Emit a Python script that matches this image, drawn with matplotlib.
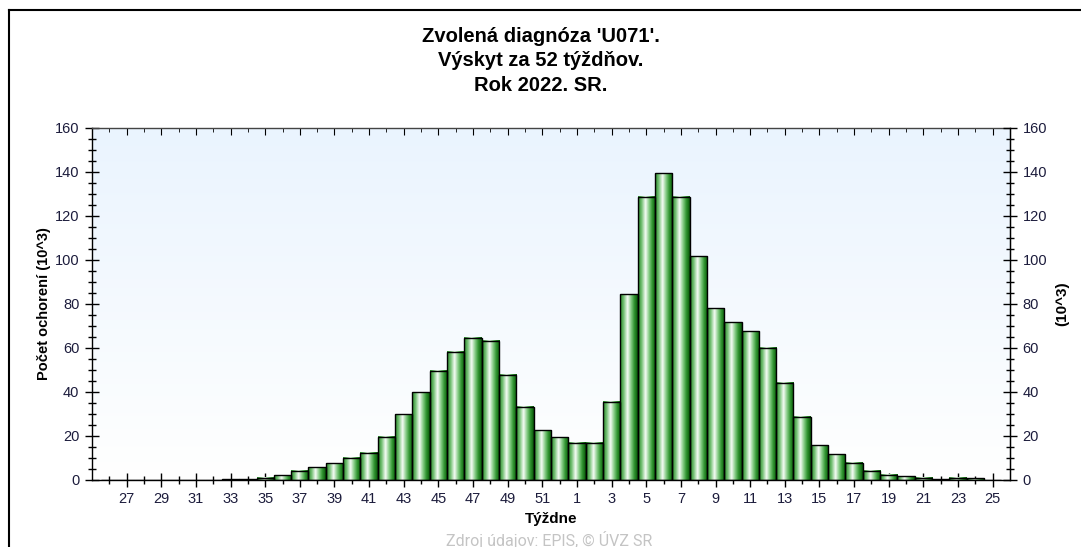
import matplotlib.pyplot as plt
import numpy as np
from matplotlib.colors import LinearSegmentedColormap
from matplotlib.lines import Line2D
from matplotlib.ticker import FixedLocator, MultipleLocator

weeks = list(range(26, 53)) + list(range(1, 26))
cases = [0, 0, 0, 0, 0, 0, 0, 0.4, 0.4, 1.0, 2.1, 4.1, 5.9, 7.7, 10.2, 12.3,
         19.6, 30.0, 39.9, 49.7, 58.4, 64.6, 63.4, 47.9, 33.2, 22.6, 19.4,
         17.0, 17.0, 35.5, 84.5, 128.8, 139.4, 128.8, 101.8, 78.1, 71.6, 67.6,
         60.2, 44.1, 28.8, 15.8, 11.7, 7.9, 4.1, 2.3, 1.7, 1.0, 0.4, 1.0, 0.9, 0]

title = "Zvolená diagnóza 'U071'.\nVýskyt za 52 týždňov.\nRok 2022. SR."
ylabel = "Počet ochorení (10^3)"
ylabel_right = "(10^3)"
xlabel = "Týždne"
source = "Zdroj údajov: EPIS, © ÚVZ SR"

plt.rcParams['font.family'] = ['Liberation Sans', 'DejaVu Sans']

fig = plt.figure(figsize=(10.81, 5.47), dpi=100)
ax = fig.add_axes([0.0851, 0.1225, 0.8492, 0.6435])

x = np.arange(len(weeks))
ax.set_xlim(-1, len(weeks))
ax.set_ylim(0, 160)

# background gradient light blue -> white
bg = np.linspace(0, 1, 256).reshape(-1, 1)
bg_cmap = LinearSegmentedColormap.from_list("bg", ["#ffffff", "#eaf4fe"])
ax.imshow(bg, cmap=bg_cmap, origin="lower", aspect="auto",
          extent=[-1, len(weeks), 0, 160], zorder=0)

# cylinder-style bars
bar_cmap = LinearSegmentedColormap.from_list(
    "bar", [(0.0, "#268626"), (0.2, "#74c074"), (0.42, "#f6fcf6"),
            (0.62, "#86cc86"), (0.8, "#329632"), (1.0, "#085608")])
grad = np.linspace(0, 1, 64).reshape(1, -1)
for xi, h in zip(x, cases):
    if h <= 0:
        continue
    ax.imshow(grad, cmap=bar_cmap, aspect="auto",
              extent=[xi - 0.5, xi + 0.5, 0, h], zorder=2)
ax.bar(x, cases, width=1.0, facecolor="none", edgecolor="black",
       linewidth=1.0, zorder=3)

tick_color = "#1c1c3c"
major = [i for i, w in zip(x, weeks) if w % 2 == 1]
minor = [i for i, w in zip(x, weeks) if w % 2 == 0]
ax.xaxis.set_major_locator(FixedLocator(major))
ax.xaxis.set_minor_locator(FixedLocator(minor))
ax.set_xticklabels([str(w) for w in weeks if w % 2 == 1])
ax.yaxis.set_major_locator(MultipleLocator(20))
ax.yaxis.set_minor_locator(MultipleLocator(5))

ax.tick_params(axis="both", which="major", direction="inout", length=10,
               width=1.0, labelsize=10.5, labelcolor=tick_color, pad=4)
ax.tick_params(axis="both", which="minor", direction="inout", length=6,
               width=1.0)

for s in ax.spines.values():
    s.set_linewidth(1.0)
ax.spines["top"].set_color("#444444")

# top ticks
top = ax.secondary_xaxis("top")
top.xaxis.set_major_locator(FixedLocator(major))
top.xaxis.set_minor_locator(FixedLocator(minor))
top.tick_params(which="major", direction="in", length=5, labeltop=False)
top.tick_params(which="minor", direction="in", length=3)
top.spines["top"].set_visible(False)

# right axis
ax2 = ax.twinx()
ax2.set_ylim(0, 160)
ax2.yaxis.set_major_locator(MultipleLocator(20))
ax2.yaxis.set_minor_locator(MultipleLocator(5))
ax2.tick_params(axis="y", which="major", direction="inout", length=10,
                width=1.0, labelsize=10.5, labelcolor=tick_color, pad=4)
ax2.tick_params(axis="y", which="minor", direction="inout", length=6,
                width=1.0)
ax2.set_ylabel(ylabel_right, fontsize=11, fontweight="bold", labelpad=6)
for s in ax2.spines.values():
    s.set_visible(False)
ax2.spines["right"].set_visible(True)

ax.set_ylabel(ylabel, fontsize=10.5, fontweight="bold", labelpad=3)
ax.set_xlabel(xlabel, fontsize=11, fontweight="bold", labelpad=4)

fig.text(0.5, 1 - 61 / 547, title, ha="center", va="center", fontsize=14.5,
         fontweight="bold", linespacing=1.38)
fig.text(549 / 1081, 1 - 540 / 547, source, ha="center", va="center",
         fontsize=11.5, color="#c4c4c4", family=["Roboto", "DejaVu Sans"])

# outer frame (top and left)
fig.add_artist(Line2D([8.5 / 1081, 1], [1 - 9.5 / 547, 1 - 9.5 / 547],
                      transform=fig.transFigure, color="black", lw=1.5))
fig.add_artist(Line2D([8.5 / 1081, 8.5 / 1081], [0, 1 - 9.5 / 547],
                      transform=fig.transFigure, color="black", lw=1.5))

fig.savefig("out.png", dpi=100)
plt.close(fig)
